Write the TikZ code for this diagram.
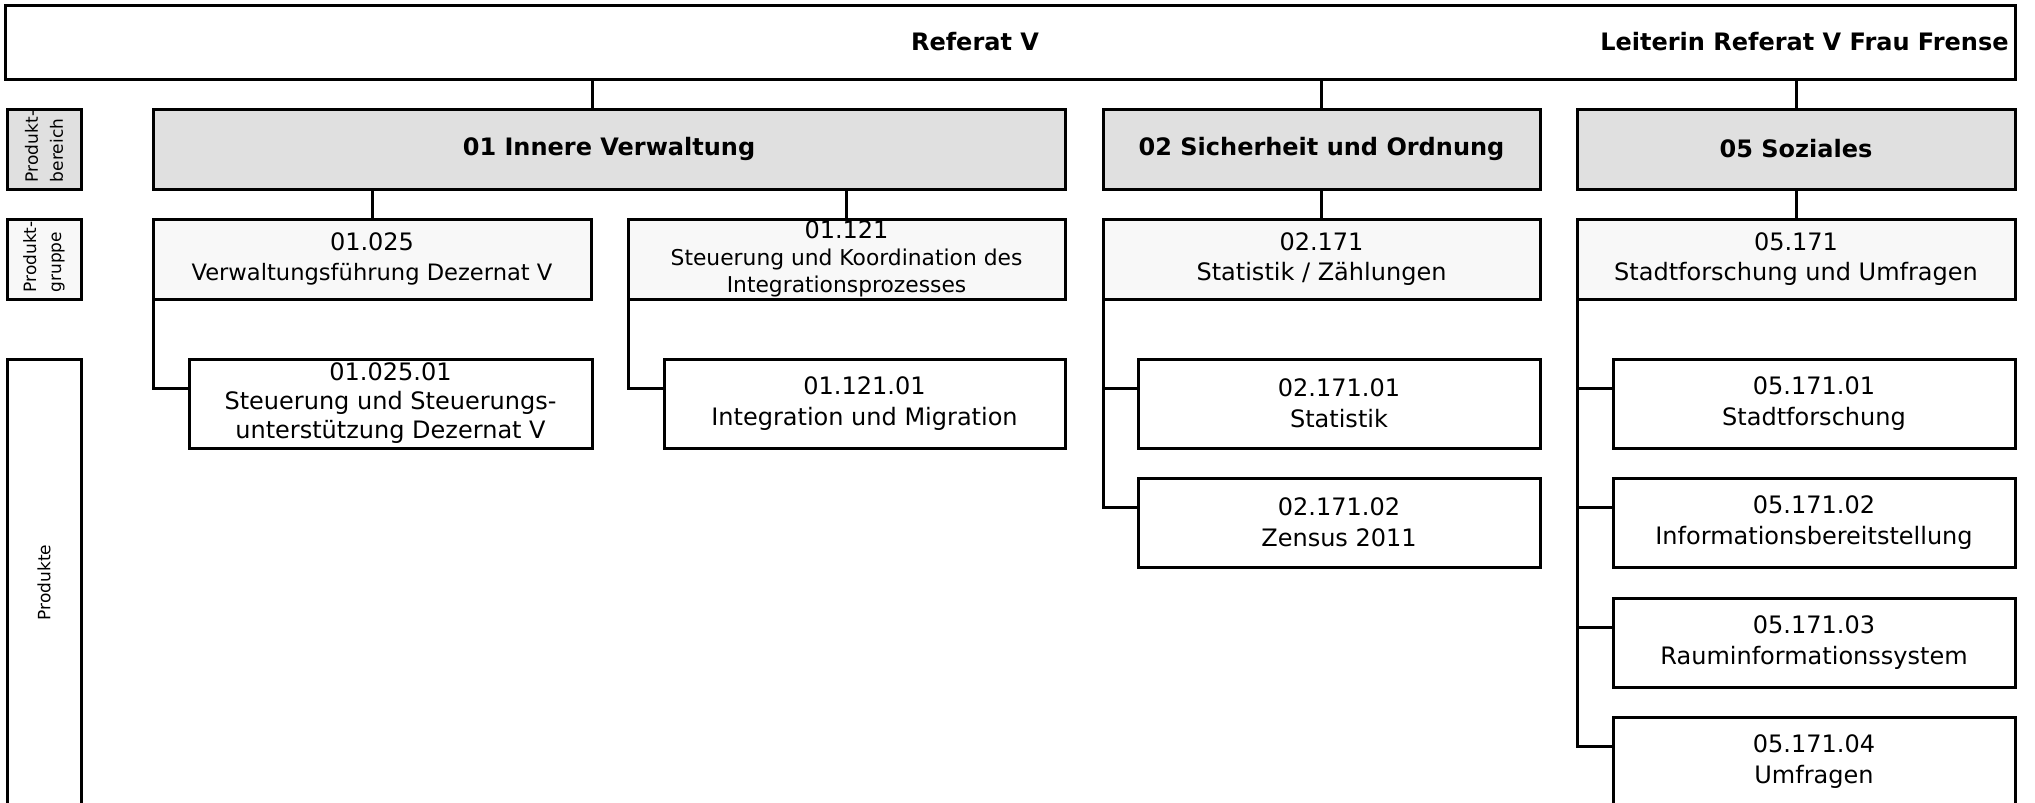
\documentclass[tikz,border=0pt]{standalone}
\usepackage{fontspec}
\setmainfont{DejaVu Sans}
\definecolor{bereichfill}{HTML}{E0E0E0}
\definecolor{gruppefill}{HTML}{F8F8F8}
\tikzset{box/.style={draw,line width=1.5pt,inner sep=0pt,outer sep=0pt,anchor=north west,
           align=center,font=\fontsize{12}{15.5}\selectfont},
         bereich/.style={box,fill=bereichfill,minimum height=40pt,font=\bfseries\fontsize{12}{15}\selectfont},
         gruppe/.style={box,fill=gruppefill,minimum height=40pt,font=\fontsize{12}{15}\selectfont},
         produkt/.style={box,fill=white,minimum width=201pt,minimum height=44.5pt},
         ebene/.style={draw,line width=1.5pt,outer sep=0pt,rotate=90,minimum width=40pt,minimum height=37pt,
           inner xsep=3.5pt,inner ysep=0pt,text width=33pt,align=left,font=\fontsize{8.5}{12.5}\selectfont},
         link/.style={line width=1.5pt}}

\begin{document}
\begin{tikzpicture}[x=0.5pt,y=-0.5pt]
  \useasboundingbox (0,0) rectangle (2035,803);
  % Kopfzeile
  \node[box,minimum width=1005pt,minimum height=37pt] (referat) at (5,5) {};
  \node[inner sep=0pt,font=\bfseries\fontsize{12}{15}\selectfont] (titel) at (975,42) {Referat V};
  \node[inner sep=0pt,anchor=east,font=\bfseries\fontsize{12}{15}\selectfont] (leitung) at (2009,42)
    {Leiterin Referat V Frau Frense};
  % Ebenen links
  \node[ebene,fill=bereichfill] (lblbereich) at (44,149) {\mbox{Produkt-}\\bereich};
  \node[ebene,fill=gruppefill] (lblgruppe) at (44,259.5) {\mbox{Produkt-}\\gruppe};
  \node[ebene,minimum width=223.5pt,text width=216.5pt,align=center] (lblprodukte) at (44,582.5) {Produkte};
  % Produktbereiche
  \node[bereich,minimum width=456pt] (b01) at (153,109) {01 Innere Verwaltung};
  \node[bereich,minimum width=218.5pt] (b02) at (1103,109) {02 Sicherheit und Ordnung};
  \node[bereich,minimum width=219pt] (b05) at (1577,109) {05 Soziales};
  % Produktgruppen
  \node[gruppe,minimum width=219pt] (g01025) at (153,219)
    {01.025\\\fontsize{11.3}{15}\selectfont Verwaltungsführung Dezernat V};
  \node[gruppe,minimum width=218.5pt,font=\fontsize{12}{13.5}\selectfont] (g01121) at (628,219)
    {01.121\\\fontsize{10.9}{13.5}\selectfont Steuerung und Koordination des\\
     \fontsize{10.9}{13.5}\selectfont Integrationsprozesses};
  \node[gruppe,minimum width=218.5pt] (g02171) at (1103,219) {02.171\\Statistik / Zählungen};
  \node[gruppe,minimum width=219pt] (g05171) at (1577,219) {05.171\\Stadtforschung und Umfragen};
  % Produkte
  \node[produkt,minimum width=201.5pt,font=\fontsize{12}{14.5}\selectfont] (p0102501) at (189,359)
    {01.025.01\\Steuerung und Steuerungs-\\unterstützung Dezernat V};
  \node[produkt,minimum width=200.5pt] (p0112101) at (664,359) {01.121.01\\Integration und Migration};
  \node[produkt] (p0217101) at (1138,359) {02.171.01\\Statistik};
  \node[produkt] (p0217102) at (1138,478) {02.171.02\\Zensus 2011};
  \node[produkt] (p0517101) at (1613,359) {05.171.01\\Stadtforschung};
  \node[produkt] (p0517102) at (1613,478) {05.171.02\\Informationsbereitstellung};
  \node[produkt] (p0517103) at (1613,598) {05.171.03\\Rauminformationssystem};
  \node[produkt] (p0517104) at (1613,717) {05.171.04\\Umfragen};
  % Verbindungen
  \coordinate (c01) at ([xshift=-8.5pt]b01.north);
  \draw[link] (c01) -- (c01 |- referat.south);
  \draw[link] (b02.north) -- (b02.north |- referat.south);
  \draw[link] (b05.north) -- (b05.north |- referat.south);
  \draw[link] (g01025.north) -- (g01025.north |- b01.south);
  \draw[link] (g01121.north) -- (g01121.north |- b01.south);
  \draw[link] (g02171.north) -- (g02171.north |- b02.south);
  \draw[link] (g05171.north) -- (g05171.north |- b05.south);
  \draw[link] (g01025.south west) |- ([yshift=-14.5pt]p0102501.north west);
  \draw[link] (g01121.south west) |- ([yshift=-14.5pt]p0112101.north west);
  \foreach \p in {p0217101,p0217102}
    \draw[link] (g02171.south west) |- ([yshift=-14.5pt]\p.north west);
  \foreach \p in {p0517101,p0517102,p0517103,p0517104}
    \draw[link] (g05171.south west) |- ([yshift=-14.5pt]\p.north west);
\end{tikzpicture}
\end{document}
